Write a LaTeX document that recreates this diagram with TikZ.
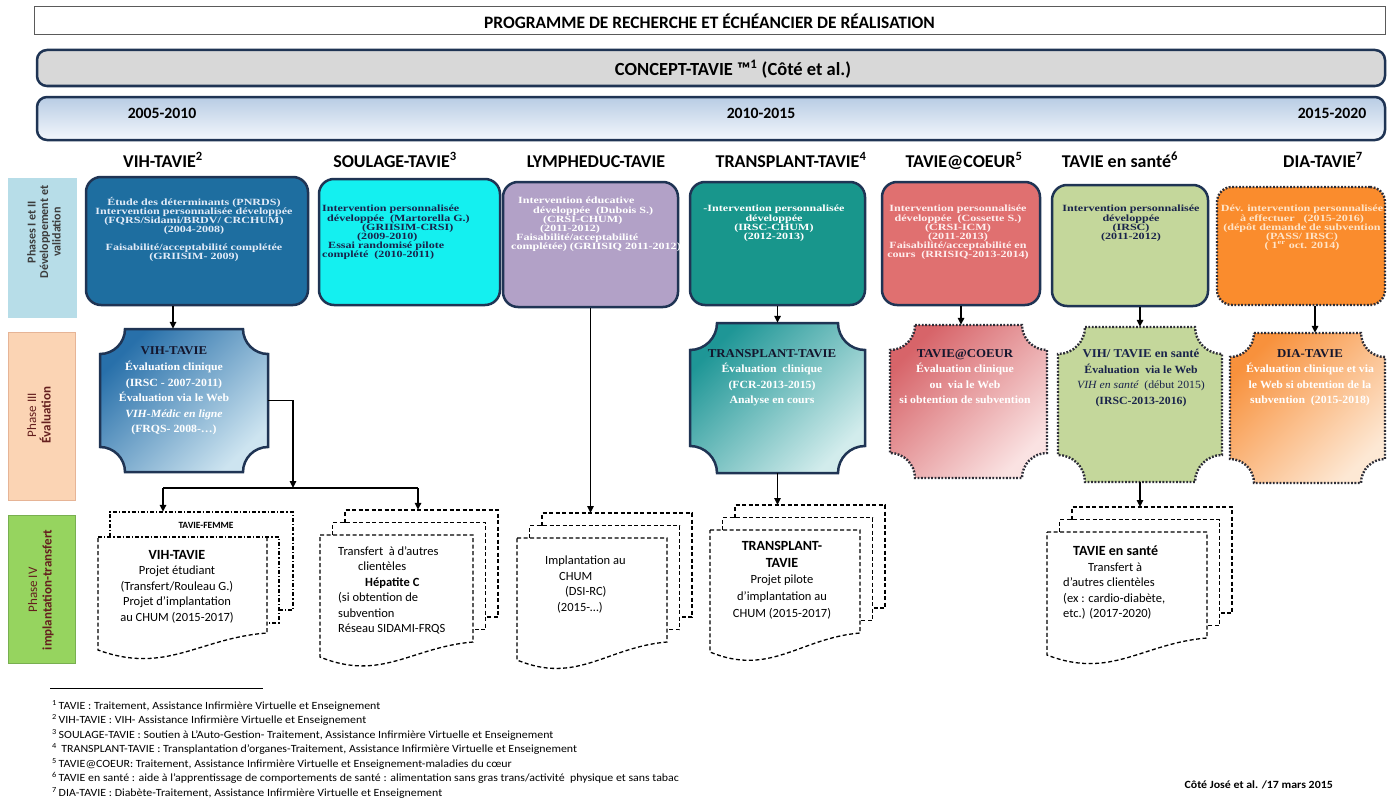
\documentclass[tikz,border=0pt]{standalone}
\usepackage{fontspec}
\setmainfont{Carlito}
\newfontfamily\bxf[FakeStretch=1.27]{Liberation Serif}
\newfontfamily\evf[FakeStretch=1.07]{Liberation Serif}
\newfontfamily\fnf[FakeStretch=1.08]{Carlito}
\usetikzlibrary{arrows.meta}
\definecolor{navy}{RGB}{31,52,84}
\definecolor{dotc}{RGB}{45,45,55}
\definecolor{c1}{RGB}{30,110,160}
\definecolor{c2}{RGB}{20,240,240}
\definecolor{c3}{RGB}{178,161,199}
\definecolor{c4}{RGB}{24,150,140}
\definecolor{c5}{RGB}{224,112,112}
\definecolor{c6}{RGB}{196,215,155}
\definecolor{c7}{RGB}{250,140,45}
\definecolor{txtnavy}{RGB}{25,35,75}
\definecolor{evhd}{RGB}{20,22,45}
\definecolor{ph1}{RGB}{183,221,232}
\definecolor{ph3}{RGB}{251,212,180}
\definecolor{ph4}{RGB}{150,212,95}
\definecolor{phtxt}{RGB}{100,30,30}
\definecolor{ph1txt}{RGB}{60,60,60}
\definecolor{grayfill}{RGB}{216,216,216}
\definecolor{yeartop}{RGB}{184,204,228}
\definecolor{yearbot}{RGB}{243,247,252}
\definecolor{ev1a}{RGB}{40,112,170}
\definecolor{ev1b}{RGB}{205,228,240}
\definecolor{ev2a}{RGB}{30,150,150}
\definecolor{ev2b}{RGB}{210,236,236}
\definecolor{ev3a}{RGB}{215,100,105}
\definecolor{ev3b}{RGB}{250,226,226}
\definecolor{ev5a}{RGB}{248,145,60}
\definecolor{ev5b}{RGB}{253,232,212}
\definecolor{wt1}{RGB}{225,235,248}
\definecolor{wt5}{RGB}{255,238,238}
\definecolor{wt7}{RGB}{255,228,200}

% concave-cornered panel: x1 y1 x2 y2 r style
\newcommand\plaque[6]{%
 \pgfmathsetmacro\plA{#1+#5}\pgfmathsetmacro\plB{#3-#5}%
 \pgfmathsetmacro\plC{#2+#5}\pgfmathsetmacro\plD{#4-#5}%
 \pgfmathsetmacro\plK{#5*0.55}%
 \pgfmathsetmacro\plE{#1+\plK}\pgfmathsetmacro\plF{#3-\plK}%
 \pgfmathsetmacro\plG{#2+\plK}\pgfmathsetmacro\plH{#4-\plK}%
 \path[#6] (\plA,#2) -- (\plB,#2) .. controls (\plB,\plG) and (\plF,\plC) .. (#3,\plC)
   -- (#3,\plD) .. controls (\plF,\plD) and (\plB,\plH) .. (\plB,#4)
   -- (\plA,#4) .. controls (\plA,\plH) and (\plE,\plD) .. (#1,\plD)
   -- (#1,\plC) .. controls (\plE,\plC) and (\plA,\plG) .. (\plA,#2) -- cycle;
}
% stacked documents: name x1 ytop x2 yright yleft d nodex
\newcommand\mdoc[8]{%
 \pgfmathsetmacro\mdA{#2+#7}\pgfmathsetmacro\mdB{#2+2*#7}%
 \pgfmathsetmacro\mdC{#4+#7}\pgfmathsetmacro\mdD{#4+2*#7}%
 \pgfmathsetmacro\mdE{#3-#7}\pgfmathsetmacro\mdF{#3-2*#7}%
 \pgfmathsetmacro\mdG{#5-#7}\pgfmathsetmacro\mdH{#5-2*#7}%
 \pgfmathsetmacro\mdW{#4-0.4*(#4-#2)}\pgfmathsetmacro\mdX{#2+0.4*(#4-#2)}%
 \pgfmathsetmacro\mdY{#5+5}\pgfmathsetmacro\mdZ{#6+25}%
 \draw[docline] (\mdB,\mdE) -- (\mdB,\mdF) -- (\mdD,\mdF) -- (\mdD,\mdH) -- (\mdC,\mdH);
 \draw[docline] (\mdA,#3) -- (\mdA,\mdE) -- (\mdC,\mdE) -- (\mdC,\mdG) -- (#4,\mdG);
 \draw[docline] (#2,#3) -- (#4,#3) -- (#4,#5) .. controls (\mdW,\mdY) and (\mdX,\mdZ) .. (#2,#6) -- cycle;
 \node[inner sep=0pt,minimum size=0pt] (#1) at (#8,\mdF) {};
}

\begin{document}
\begin{tikzpicture}[x=1pt,y=-1pt,
  arr/.style={line width=1.5pt,-{Triangle[length=7pt,width=6.5pt]}},
  conn/.style={line width=1.5pt},
  rbox/.style={rectangle,rounded corners=15pt,draw=navy,line width=2.5pt,inner sep=0pt},
  dotbox/.style={rectangle,rounded corners=15pt,draw=dotc,line width=2.4pt,dash pattern=on 1.8pt off 1.6pt,inner sep=0pt},
  btxt/.style={font=\bxf\bfseries\fontsize{9.5}{9.2}\selectfont,align=center,anchor=north,inner sep=0pt},
  etxt/.style={font=\evf\bfseries\fontsize{11}{15.5}\selectfont,align=center,anchor=north,inner sep=0pt},
  dtxt/.style={font=\fontsize{12.5}{15.5}\selectfont,align=center,anchor=north,inner sep=0pt},
  hdr/.style={font=\bfseries\fontsize{18}{20}\selectfont,inner sep=0pt,anchor=base},
  docline/.style={line width=1.3pt,dash pattern=on 4pt off 2.5pt},
  docdd/.style={line width=1.3pt,dash pattern=on 4pt off 2pt on 1.3pt off 2pt},
  evsolid/.style={draw=navy,line width=2.5pt},
  evdot/.style={draw=dotc,line width=2.4pt,dash pattern=on 1.8pt off 1.6pt},
  evbox/.style={inner sep=0pt},
  phl/.style={rotate=90,align=center,inner sep=0pt,font=\fontsize{13}{14.5}\selectfont},
  fn/.style={anchor=base west,inner sep=0pt,font=\fnf\fontsize{11}{12}\selectfont}]
\useasboundingbox (0,0) rectangle (1395,808);
\fill[white] (0,0) rectangle (1395,808);

% headers
\node[draw={rgb,255:red,90;green,90;blue,90},line width=1pt,fill=white,minimum width=1351,minimum height=28,inner sep=0pt,font=\bfseries\fontsize{17.4}{19}\selectfont] (title) at (709.5,21) {PROGRAMME DE RECHERCHE ET ÉCHÉANCIER DE RÉALISATION};
\node[rectangle,rounded corners=10pt,draw=navy,line width=2.5pt,fill=grayfill,minimum width=1348,minimum height=36,inner sep=0pt] (concept) at (711,68) {};
\node[hdr,font=\bfseries\fontsize{18.5}{20}\selectfont] (concepttxt) at (733,75) {CONCEPT-TAVIE ™\textsuperscript{1} (Côté et al.)};
\node[rectangle,rounded corners=10pt,draw=navy,line width=2.5pt,top color=yeartop,bottom color=yearbot,minimum width=1348,minimum height=43,inner sep=0pt] (years) at (711,118.5) {};
\node[hdr,font=\bfseries\fontsize{15.7}{17}\selectfont] (y1) at (162,118.5) {2005-2010};
\node[hdr,font=\bfseries\fontsize{15.7}{17}\selectfont] (y2) at (761,118.5) {2010-2015};
\node[hdr,font=\bfseries\fontsize{15.7}{17}\selectfont] (y3) at (1332,118.5) {2015-2020};

\node[hdr] (h1) at (163,167) {VIH-TAVIE\textsuperscript{2}};
\node[hdr] (h2) at (395,167) {SOULAGE-TAVIE\textsuperscript{3}};
\node[hdr] (h3) at (596,167) {LYMPHEDUC-TAVIE};
\node[hdr] (h4) at (791,167) {TRANSPLANT-TAVIE\textsuperscript{4}};
\node[hdr] (h5) at (964,167) {TAVIE@COEUR\textsuperscript{5}};
\node[hdr] (h6) at (1120,167) {TAVIE en santé\textsuperscript{6}};
\node[hdr] (h7) at (1323,167) {DIA-TAVIE\textsuperscript{7}};

% phase labels
\node[fill=ph1,minimum width=69,minimum height=140,inner sep=0pt] (p1) at (42.5,248) {};
\node[phl,text=ph1txt,font=\bfseries\fontsize{12}{12.5}\selectfont] (p1t) at (44,232) {Phases I et II\\Développement et\\validation};
\node[fill=ph3,draw={rgb,255:red,230;green,180;blue,150},line width=0.6pt,minimum width=67,minimum height=168,inner sep=0pt] (p3) at (41.5,416) {};
\node[phl,text=phtxt] (p3t) at (39,415) {Phase III\\\textbf{Évaluation}};
\node[fill=ph4,draw={rgb,255:red,120;green,175;blue,80},line width=0.6pt,minimum width=67,minimum height=148,inner sep=0pt] (p4) at (41.5,589) {};
\node[phl,text=phtxt] (p4t) at (41,590) {Phase IV\\\textbf{implantation-transfert}};

% phase I-II boxes
\node[rbox,fill=c1,minimum width=222,minimum height=128] (b1) at (197,241) {};
\node[btxt,text=wt1] (b1t) at (194,197) {Étude des déterminants (PNRDS)\\Intervention personnalisée développée\\(FQRS/Sidami/BRDV/ CRCHUM)\\(2004-2008)\\[8pt]Faisabilité/acceptabilité complétée\\(GRIISIM- 2009)};
\node[rbox,fill=c2,minimum width=181,minimum height=126] (b2) at (409.5,242) {};
\node[btxt,align=left,anchor=north west,text=txtnavy] (b2t) at (322,205) {Intervention personnalisée\\\hspace*{5pt}développée~ (Martorella G.)\\\hspace*{40pt}(GRIISIM-CRSI)\\\hspace*{35pt}(2009-2010)\\\hspace*{6pt}Essai randomisé pilote\\complété~ (2010-2011)};
\node[rbox,fill=c3,minimum width=175,minimum height=125] (b3) at (590.5,244.5) {};
\node[btxt,align=left,anchor=north west,text=white] (b3t) at (511,197) {\hspace*{7pt}Intervention éducative\\\hspace*{22pt}développée~ (Dubois S.)\\\hspace*{32pt}(CRSI-CHUM)\\\hspace*{29pt}(2011-2012)\\\hspace*{5pt}Faisabilité/acceptabilité\\complétée) (GRIISIQ 2011-2012)};
\node[rbox,fill=c4,minimum width=175,minimum height=123] (b4) at (777.5,243.5) {};
\node[btxt,text=white] (b4t) at (774,205) {-Intervention personnalisée\\développée\\(IRSC-CHUM)\\(2012-2013)};
\node[rbox,fill=c5,minimum width=158,minimum height=123] (b5) at (961,243.5) {};
\node[btxt,text=wt5] (b5t) at (958,205) {Intervention personnalisée\\développée~ (Cossette S.)\\(CRSI-ICM)\\(2011-2013)\\Faisabilité/acceptabilité en\\cours~ (RRISIQ-2013-2014)};
\node[rbox,fill=c6,minimum width=156,minimum height=121] (b6) at (1130,245.5) {};
\node[btxt,text=txtnavy] (b6t) at (1131,205) {Intervention personnalisée\\développée\\(IRSC)\\(2011-2012)};
\node[dotbox,fill=c7,minimum width=168,minimum height=118] (b7) at (1301,246) {};
\node[btxt,text=wt7] (b7t) at (1302,205) {Dév. intervention personnalisée\\à effectuer~~ (2015-2016)\\(dépôt demande de subvention\\(PASS/ IRSC)\\( 1\textsuperscript{er} oct. 2014)};

% phase III panels
\plaque{100}{329}{268}{472}{25}{evsolid,top color=ev1a,bottom color=ev1b,shading angle=45}
\node[evbox,minimum width=168,minimum height=143] (e1) at (184,400.5) {};
\node[etxt,text=white] (e1t) at (174,346) {{\color{evhd}\fontsize{12}{15.5}\selectfont VIH-TAVIE}\\[1pt]Évaluation clinique\\(IRSC - 2007-2011)\\Évaluation via le Web\\\textit{VIH-Médic en ligne}\\(FRQS- 2008-…)};

\plaque{690}{323}{865}{473}{27}{evsolid,top color=ev2a,bottom color=ev2b,shading angle=45}
\node[evbox,minimum width=175,minimum height=150] (e2) at (777.5,398) {};
\node[etxt,text=white] (e2t) at (772,349) {{\color{evhd}\fontsize{12}{15.5}\selectfont TRANSPLANT-TAVIE}\\Évaluation~ clinique\\(FCR-2013-2015)\\Analyse en cours};

\plaque{890}{325}{1047}{478}{25}{evdot,top color=ev3a,bottom color=ev3b,shading angle=45}
\node[evbox,minimum width=157,minimum height=153] (e3) at (968.5,401.5) {};
\node[etxt,text=white] (e3t) at (965,349) {{\color{evhd}\fontsize{12}{15.5}\selectfont TAVIE@COEUR}\\Évaluation clinique\\ou~ via le Web\\si obtention de subvention};

\plaque{1058}{327}{1222}{482}{27}{evdot,fill=c6}
\node[evbox,minimum width=164,minimum height=155] (e4) at (1140,404.5) {};
\node[etxt,text=txtnavy] (e4t) at (1141,349) {{\fontsize{12}{15.5}\selectfont VIH/ TAVIE en santé}\\Évaluation~ via le Web\\{\mdseries\itshape VIH en santé}~ {\mdseries(début 2015)}\\(IRSC-2013-2016)};

\plaque{1230}{333}{1385}{483}{24}{evdot,top color=ev5a,bottom color=ev5b,shading angle=45}
\node[evbox,minimum width=155,minimum height=150] (e5) at (1307.5,408) {};
\node[etxt,text=white] (e5t) at (1310,349) {{\color{evhd}\fontsize{12}{15.5}\selectfont DIA-TAVIE}\\Évaluation clinique et via\\le Web si obtention de la\\subvention~ (2015-2018)};

% phase IV documents
\draw[docdd] (110,537) -- (110,512) -- (293,512) -- (293,610) -- (279,610);
\draw[docdd] (98,537) -- (279,537) -- (279,623) -- (267,623);
\draw[docline] (267,537) -- (267,633) .. controls (199,638) and (166,675) .. (98,650) -- (98,537);
\node[inner sep=0pt,minimum size=0pt] (d1) at (163,512) {};
\node[inner sep=0pt,font=\bfseries\fontsize{9.5}{11}\selectfont] (fem) at (206,525) {TAVIE-FEMME};
\node[dtxt] (d1t) at (177,550) {{\bfseries\fontsize{14}{15.5}\selectfont VIH-TAVIE}\\Projet étudiant\\(Transfert/Rouleau G.)\\Projet d’implantation\\au CHUM (2015-2017)};

\mdoc{d2}{320}{535}{473}{642}{657}{12.5}{418}
\node[dtxt,align=left,anchor=north west] (d2t) at (338,546) {Transfert~ à d’autres\\\hspace*{20pt}clientèles\\\hspace*{27pt}\textbf{Hépatite C}\\(si obtention de\\subvention\\Réseau SIDAMI-FRQS};

\mdoc{d3}{517}{538}{667}{642}{660}{12.5}{590.5}
\node[dtxt,align=left,anchor=north west] (d3t) at (545,556) {Implantation au\\\hspace*{14pt}CHUM\\\hspace*{20pt}(DSI-RC)\\\hspace*{12pt}(2015-…)};

\mdoc{d4}{710}{530}{860}{633}{652}{12.5}{777.5}
\node[dtxt,font=\fontsize{12.5}{16.7}\selectfont] (d4t) at (782,541) {{\bfseries\fontsize{14}{16.7}\selectfont TRANSPLANT-}\\{\bfseries\fontsize{14}{16.7}\selectfont TAVIE}\\Projet pilote\\d’implantation au\\CHUM (2015-2017)};

\mdoc{d5}{1047}{532}{1207}{638}{655}{12.5}{1140}
\node[dtxt,align=left,anchor=north west] (d5t) at (1063,546) {\hspace*{10pt}{\bfseries\fontsize{14}{15.5}\selectfont TAVIE en santé}\\\hspace*{25pt}Transfert à\\d’autres clientèles\\(ex : cardio-diabète,\\etc.) (2017-2020)};

% connectors
\coordinate (a1) at (173,0);
\coordinate (a7) at (1315,0);
\draw[arr] (b1.south -| a1) -- (e1.north -| a1);
\draw[arr] (b4.south) -- (e2.north);
\draw[arr] (b5.south) -- (b5.south |- e3.north);
\draw[arr] (b6.south -| e4.north) -- (e4.north);
\draw[arr] (b7.south -| a7) -- (e5.north -| a7);
\coordinate (j) at (293,488);
\draw[arr] (e1.east) -| (j);
\draw[conn] (j -| d1) -- (j -| d2);
\draw[arr] (j -| d1) -- (d1);
\draw[arr] (j -| d2) -- (d2);
\draw[arr] (b3.south) -- (b3.south |- d3);
\draw[arr] (e2.south) -- (e2.south |- d4);
\draw[arr] (e4.south) -- (e4.south |- d5);

% footnotes
\draw[line width=1pt] (50,688) -- (263,688);
\node[fn] (f1) at (52,709) {\textsuperscript{1}\,TAVIE : Traitement, Assistance Infirmière Virtuelle et Enseignement};
\node[fn] (f2) at (52,723.5) {\textsuperscript{2}\,VIH-TAVIE : VIH- Assistance Infirmière Virtuelle et Enseignement};
\node[fn] (f3) at (52,738) {\textsuperscript{3}\,SOULAGE-TAVIE : Soutien à L’Auto-Gestion- Traitement, Assistance Infirmière Virtuelle et Enseignement};
\node[fn] (f4) at (52,752.5) {\textsuperscript{4}\, TRANSPLANT-TAVIE : Transplantation d’organes-Traitement, Assistance Infirmière Virtuelle et Enseignement};
\node[fn] (f5) at (52,767) {\textsuperscript{5}\,TAVIE@COEUR: Traitement, Assistance Infirmière Virtuelle et Enseignement-maladies du cœur};
\node[fn] (f6) at (52,781.5) {\textsuperscript{6}\,TAVIE en santé : aide à l’apprentissage de comportements de santé : alimentation sans gras trans/activité~ physique et sans tabac};
\node[fn] (f7) at (52,796) {\textsuperscript{7}\,DIA-TAVIE : Diabète-Traitement, Assistance Infirmière Virtuelle et Enseignement};
\node[fn,anchor=base east,font=\fnf\bfseries\fontsize{11}{12}\selectfont] (sig) at (1333,788) {Côté José et al. /17 mars 2015};
\end{tikzpicture}
\end{document}
